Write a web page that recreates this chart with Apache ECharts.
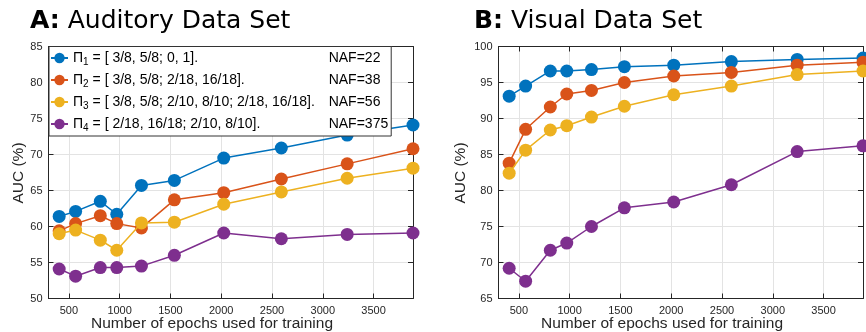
<!DOCTYPE html>
<html>
<head>
<meta charset="utf-8">
<script src="https://cdn.jsdelivr.net/npm/echarts@6/dist/echarts.min.js"></script>
<style>
  html, body { margin: 0; padding: 0; background: #fff; }
  #main { width: 866px; height: 332px; }
</style>
</head>
<body>
<div id="main"></div>
<script>
// 横坐标：训练用的 epoch 数
var epochs = [405, 567, 810, 972, 1215, 1539, 2025, 2592, 3240, 3888];
var xTicks = [500, 1000, 1500, 2000, 2500, 3000, 3500];

// A: Auditory
var audP1 = [61.4, 62.1, 63.5, 61.7, 65.7, 66.4, 69.5, 70.9, 72.7, 74.1];
var audP2 = [59.4, 60.4, 61.5, 60.4, 59.8, 63.7, 64.7, 66.6, 68.7, 70.8];
var audP3 = [59.0, 59.5, 58.1, 56.7, 60.5, 60.6, 63.1, 64.8, 66.7, 68.1];
var audP4 = [54.1, 53.1, 54.3, 54.3, 54.5, 56.0, 59.1, 58.3, 58.9, 59.1];

// B: Visual
var visP1 = [93.1, 94.5, 96.6, 96.6, 96.8, 97.2, 97.4, 97.9, 98.2, 98.4];
var visP2 = [83.8, 88.5, 91.6, 93.4, 93.9, 95.0, 95.9, 96.4, 97.4, 97.8];
var visP3 = [82.4, 85.6, 88.4, 89.0, 90.2, 91.7, 93.3, 94.5, 96.1, 96.6];
var visP4 = [69.2, 67.4, 71.7, 72.7, 75.0, 77.6, 78.4, 80.8, 85.4, 86.2];

// 图例文字
var seriesNames = ['P1', 'P2', 'P3', 'P4'];
var piSub = ['1', '2', '3', '4'];
var piText = [' = [ 3/8, 5/8; 0, 1].',
              ' = [ 3/8, 5/8; 2/18, 16/18].',
              ' = [ 3/8, 5/8; 2/10, 8/10; 2/18, 16/18].',
              ' = [ 2/18, 16/18; 2/10, 8/10].'];
var nafText = ['NAF=22', 'NAF=38', 'NAF=56', 'NAF=375'];
var colors = ['#0072BD', '#D95319', '#EDB120', '#7E2F8E'];

function pairs(ys) {
    var out = [];
    for (var i = 0; i < ys.length; i++) {
        out.push([epochs[i], ys[i]]);
    }
    return out;
}

var axisColor = '#262626';
var font = 'Liberation Sans, Arial, sans-serif';

function mainX(gi) {
    return {
        type: 'value', gridIndex: gi, min: 300, max: 3888,
        axisLine: { show: true, onZero: false, lineStyle: { color: axisColor, width: 1 } },
        axisTick: { show: true, inside: true, length: 5, customValues: xTicks, lineStyle: { color: axisColor } },
        axisLabel: { customValues: xTicks, color: axisColor, fontSize: 11, fontFamily: font, margin: 7,
                     formatter: function (v) { return String(v); } },
        splitLine: { show: true, lineStyle: { color: '#e3e3e3', width: 1 } }
    };
}
function topX(gi) {
    return {
        type: 'value', gridIndex: gi, min: 300, max: 3888, position: 'top',
        axisLine: { show: true, onZero: false, lineStyle: { color: axisColor, width: 1 } },
        axisTick: { show: true, inside: true, length: 5, customValues: xTicks, lineStyle: { color: axisColor } },
        axisLabel: { show: false },
        splitLine: { show: false }
    };
}
function mainY(gi, lo, hi) {
    return {
        type: 'value', gridIndex: gi, min: lo, max: hi, interval: 5,
        axisLine: { show: true, onZero: false, lineStyle: { color: axisColor, width: 1 } },
        axisTick: { show: true, inside: true, length: 5, lineStyle: { color: axisColor } },
        axisLabel: { color: axisColor, fontSize: 11, fontFamily: font, margin: 6 },
        splitLine: { show: true, lineStyle: { color: '#e3e3e3', width: 1 } }
    };
}
function rightY(gi, lo, hi) {
    return {
        type: 'value', gridIndex: gi, min: lo, max: hi, interval: 5, position: 'right',
        axisLine: { show: true, onZero: false, lineStyle: { color: axisColor, width: 1 } },
        axisTick: { show: true, inside: true, length: 5, lineStyle: { color: axisColor } },
        axisLabel: { show: false },
        splitLine: { show: false }
    };
}

function lineSeries(name, ys, ci, gi) {
    return {
        name: name, type: 'line', xAxisIndex: gi * 2, yAxisIndex: gi * 2,
        data: pairs(ys),
        symbol: 'circle', symbolSize: 13,
        lineStyle: { color: colors[ci], width: 1.5 },
        itemStyle: { color: colors[ci] },
        z: 3 + ci,
        animation: false
    };
}

var myChart = echarts.init(document.getElementById('main'));

var option = {
    animation: false,
    color: colors,
    title: [
        { text: '{b|A:} Auditory Data Set', left: 25, top: 4,
          textStyle: { fontFamily: 'DejaVu Sans', fontSize: 25, fontWeight: 'normal', color: '#000',
                       rich: { b: { fontFamily: 'DejaVu Sans', fontSize: 25, fontWeight: 'bold', color: '#000' } } } },
        { text: '{b|B:} Visual Data Set', left: 469, top: 4,
          textStyle: { fontFamily: 'DejaVu Sans', fontSize: 25, fontWeight: 'normal', color: '#000',
                       rich: { b: { fontFamily: 'DejaVu Sans', fontSize: 25, fontWeight: 'bold', color: '#000' } } } }
    ],
    grid: [
        { left: 48.5, top: 46.5, width: 364.5, height: 252 },
        { left: 498.5, top: 46.5, width: 364.5, height: 252 }
    ],
    xAxis: [mainX(0), topX(0), mainX(1), topX(1)],
    yAxis: [mainY(0, 50, 85), rightY(0, 50, 85), mainY(1, 65, 100), rightY(1, 65, 100)],
    legend: {
        orient: 'vertical', left: 49, top: 46.5,
        padding: [4.5, 3, 3, 1], itemGap: 6, itemWidth: 17, itemHeight: 13,
        backgroundColor: '#fff', borderColor: '#333', borderWidth: 1, borderRadius: 0,
        data: seriesNames,
        formatter: function (name) {
            var i = seriesNames.indexOf(name);
            return '{p|\u03A0}{s|' + piSub[i] + '}{t|' + piText[i] + '}{n|' + nafText[i] + '}';
        },
        textStyle: {
            fontFamily: font, fontSize: 14, color: '#000',
            rich: {
                p: { fontFamily: font, fontSize: 14, lineHeight: 18, color: '#000' },
                s: { fontFamily: font, fontSize: 10, lineHeight: 8, verticalAlign: 'bottom', color: '#000' },
                t: { fontFamily: font, fontSize: 14, lineHeight: 18, width: 240, color: '#000' },
                n: { fontFamily: font, fontSize: 14, lineHeight: 18, color: '#000' }
            }
        }
    },
    graphic: [
        { type: 'text', x: 18.5, y: 173, rotation: Math.PI / 2,
          style: { text: 'AUC (%)', font: '15.5px Liberation Sans', fill: '#262626', textAlign: 'center', textVerticalAlign: 'middle' } },
        { type: 'text', x: 461, y: 173, rotation: Math.PI / 2,
          style: { text: 'AUC (%)', font: '15.5px Liberation Sans', fill: '#262626', textAlign: 'center', textVerticalAlign: 'middle' } },
        { type: 'text', x: 212, y: 324,
          style: { text: 'Number of epochs used for training', font: '15.5px Liberation Sans', fill: '#262626', textAlign: 'center', textVerticalAlign: 'middle' } },
        { type: 'text', x: 662, y: 324,
          style: { text: 'Number of epochs used for training', font: '15.5px Liberation Sans', fill: '#262626', textAlign: 'center', textVerticalAlign: 'middle' } }
    ],
    series: [
        lineSeries('P1', audP1, 0, 0),
        lineSeries('P2', audP2, 1, 0),
        lineSeries('P3', audP3, 2, 0),
        lineSeries('P4', audP4, 3, 0),
        lineSeries('P1', visP1, 0, 1),
        lineSeries('P2', visP2, 1, 1),
        lineSeries('P3', visP3, 2, 1),
        lineSeries('P4', visP4, 3, 1)
    ]
};

myChart.setOption(option);
</script>
</body>
</html>
